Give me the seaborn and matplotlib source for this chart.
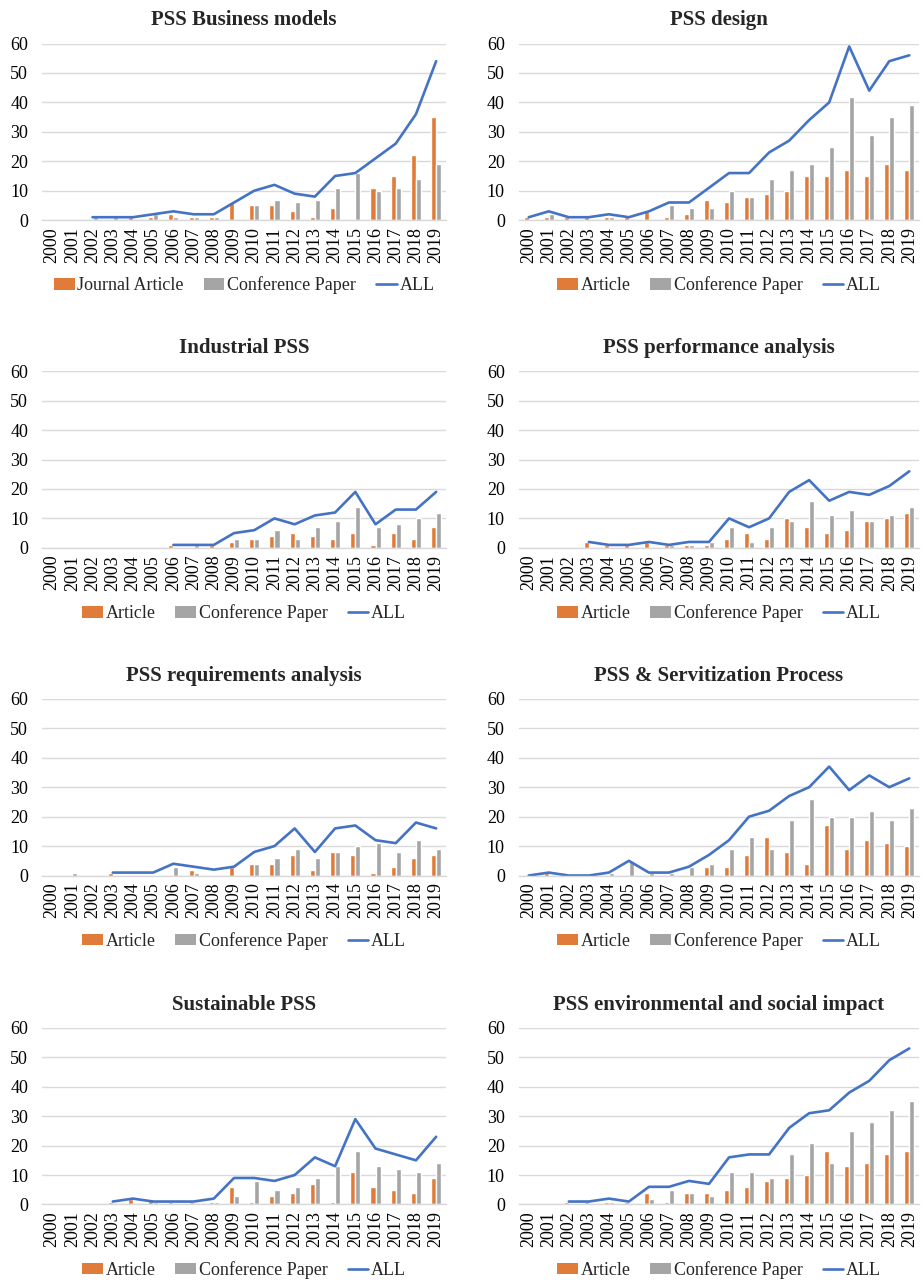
import numpy as np
import pandas as pd
import matplotlib
matplotlib.use("Agg")
import matplotlib.pyplot as plt
import seaborn as sns
from matplotlib.patches import Patch
from matplotlib.lines import Line2D

n = np.nan
years = [str(y) for y in range(2000, 2020)]

# --- PSS Business models
bm_article = [n, n, 0, 0, 1, 1, 2, 1, 1, 6, 5, 5, 3, 1, 4, 0, 11, 15, 22, 35]
bm_conf = [n, n, 1, 1, 0, 2, 1, 1, 1, 0, 5, 7, 6, 7, 11, 16, 10, 11, 14, 19]
bm_all = [n, n, 1, 1, 1, 2, 3, 2, 2, 6, 10, 12, 9, 8, 15, 16, 21, 26, 36, 54]

# --- PSS design
de_article = [1, 1, 1, 1, 1, 1, 3, 1, 2, 7, 6, 8, 9, 10, 15, 15, 17, 15, 19, 17]
de_conf = [0, 2, 0, 0, 1, 0, 0, 5, 4, 4, 10, 8, 14, 17, 19, 25, 42, 29, 35, 39]
de_all = [1, 3, 1, 1, 2, 1, 3, 6, 6, 11, 16, 16, 23, 27, 34, 40, 59, 44, 54, 56]

# --- Industrial PSS
ind_article = [n, n, n, n, n, n, 1, 0, 1, 2, 3, 4, 5, 4, 3, 5, 1, 5, 3, 7]
ind_conf = [n, n, n, n, n, n, 0, 1, 0, 3, 3, 6, 3, 7, 9, 14, 7, 8, 10, 12]
ind_all = [n, n, n, n, n, n, 1, 1, 1, 5, 6, 10, 8, 11, 12, 19, 8, 13, 13, 19]

# --- PSS performance analysis
pa_article = [n, n, n, 2, 1, 1, 2, 1, 1, 1, 3, 5, 3, 10, 7, 5, 6, 9, 10, 12]
pa_conf = [n, n, n, 0, 0, 0, 0, 1, 1, 2, 7, 2, 7, 9, 16, 11, 13, 9, 11, 14]
pa_all = [n, n, n, 2, 1, 1, 2, 1, 2, 2, 10, 7, 10, 19, 23, 16, 19, 18, 21, 26]

# --- PSS requirements analysis
ra_article = [n, 0, n, 1, 0, 0, 0, 2, 0, 3, 4, 4, 7, 2, 8, 7, 1, 3, 6, 7]
ra_conf = [n, 1, n, 0, 0, 0, 3, 1, 0, 0, 4, 6, 9, 6, 8, 10, 11, 8, 12, 9]
ra_all = [n, n, n, 1, 1, 1, 4, 3, 2, 3, 8, 10, 16, 8, 16, 17, 12, 11, 18, 16]

# --- PSS & Servitization Process
sp_article = [0, 1, 0, 0, 0, 0, 0, 0, 0, 3, 3, 7, 13, 8, 4, 17, 9, 12, 11, 10]
sp_conf = [0, 0, 0, 0, 1, 5, 1, 1, 3, 4, 9, 13, 9, 19, 26, 20, 20, 22, 19, 23]
sp_all = [0, 1, 0, 0, 1, 5, 1, 1, 3, 7, 12, 20, 22, 27, 30, 37, 29, 34, 30, 33]

# --- Sustainable PSS
su_article = [n, n, n, 1, 2, 2, 1, 1, 1, 6, 1, 3, 4, 7, 1, 11, 6, 5, 4, 9]
su_conf = [n, n, n, 0, 0, 1, 0, 0, 1, 3, 8, 5, 6, 9, 13, 18, 13, 12, 11, 14]
su_all = [n, n, n, 1, 2, 1, 1, 1, 2, 9, 9, 8, 10, 16, 13, 29, 19, 17, 15, 23]

# --- PSS environmental and social impact
es_article = [n, n, 1, 1, 1, 1, 4, 1, 4, 4, 5, 6, 8, 9, 10, 18, 13, 14, 17, 18]
es_conf = [n, n, 0, 0, 1, 0, 2, 5, 4, 3, 11, 11, 9, 17, 21, 14, 25, 28, 32, 35]
es_all = [n, n, 1, 1, 2, 1, 6, 6, 8, 7, 16, 17, 17, 26, 31, 32, 38, 42, 49, 53]

panels = [
    ("PSS Business models", "Journal Article", bm_article, bm_conf, bm_all),
    ("PSS design", "Article", de_article, de_conf, de_all),
    ("Industrial PSS", "Article", ind_article, ind_conf, ind_all),
    ("PSS performance analysis", "Article", pa_article, pa_conf, pa_all),
    ("PSS requirements analysis", "Article", ra_article, ra_conf, ra_all),
    ("PSS & Servitization Process", "Article", sp_article, sp_conf, sp_all),
    ("Sustainable PSS", "Article", su_article, su_conf, su_all),
    ("PSS environmental and social impact", "Article", es_article, es_conf, es_all),
]

ORANGE = "#E07B39"
GRAY = "#A5A5A5"
BLUE = "#4472C4"
GRID = "#D9D9D9"

sns.set_theme(style="white")
plt.rcParams["font.family"] = ["Liberation Serif", "DejaVu Serif"]

fig = plt.figure(figsize=(9.23, 12.8), dpi=100)

# axes rectangles in figure fractions (left, bottom, width, height)
lefts = [0.0455, 0.562]
widths = [0.438, 0.434]
bottoms = [0.828, 0.572, 0.316, 0.059]
height = 0.138

for i, (title, art_label, art, conf, tot) in enumerate(panels):
    row, col = divmod(i, 2)
    ax = fig.add_axes([lefts[col], bottoms[row], widths[col], height])

    df = pd.DataFrame({"year": years, art_label: art, "Conference Paper": conf})
    long = df.melt(id_vars="year", var_name="type", value_name="count").dropna()

    sns.barplot(data=long, x="year", y="count", hue="type", order=years,
                hue_order=[art_label, "Conference Paper"],
                palette=[ORANGE, GRAY], width=0.5, ax=ax, legend=False,
                zorder=2, saturation=1)
    sns.lineplot(x=np.arange(len(years)), y=np.array(tot, dtype=float), ax=ax,
                 color=BLUE, lw=1.9, zorder=3, legend=False)

    ax.set_xlim(-0.5, len(years) - 0.5)
    ax.set_ylim(0, 60)
    ax.set_yticks(range(0, 61, 10))
    ax.set_xticks(range(len(years)))
    ax.set_xticklabels(years, rotation=90)
    ax.set_xlabel("")
    ax.set_ylabel("")
    ax.yaxis.grid(True, color=GRID, lw=1.0, zorder=0)
    ax.set_axisbelow(True)
    for s in ["top", "right", "left"]:
        ax.spines[s].set_visible(False)
    ax.spines["bottom"].set_color(GRID)
    ax.spines["bottom"].set_linewidth(1.0)
    ax.spines["bottom"].set_zorder(4)
    ax.tick_params(axis="y", length=0, pad=10, labelsize=13, colors="black")
    ax.tick_params(axis="x", length=0, pad=5, labelsize=13, colors="black")
    ax.set_title(title, fontsize=15, fontweight="bold", pad=13)

    handles = [Patch(facecolor=ORANGE, edgecolor="none"),
               Patch(facecolor=GRAY, edgecolor="none"),
               Line2D([0], [0], color=BLUE, lw=1.9)]
    ax.legend(handles, [art_label, "Conference Paper", "ALL"],
              loc="center", bbox_to_anchor=(0.5, -0.37), ncol=3,
              frameon=False, fontsize=13, handlelength=1.15,
              handleheight=0.6, handletextpad=0.15, columnspacing=1.1)

fig.savefig("out.png", dpi=100)
